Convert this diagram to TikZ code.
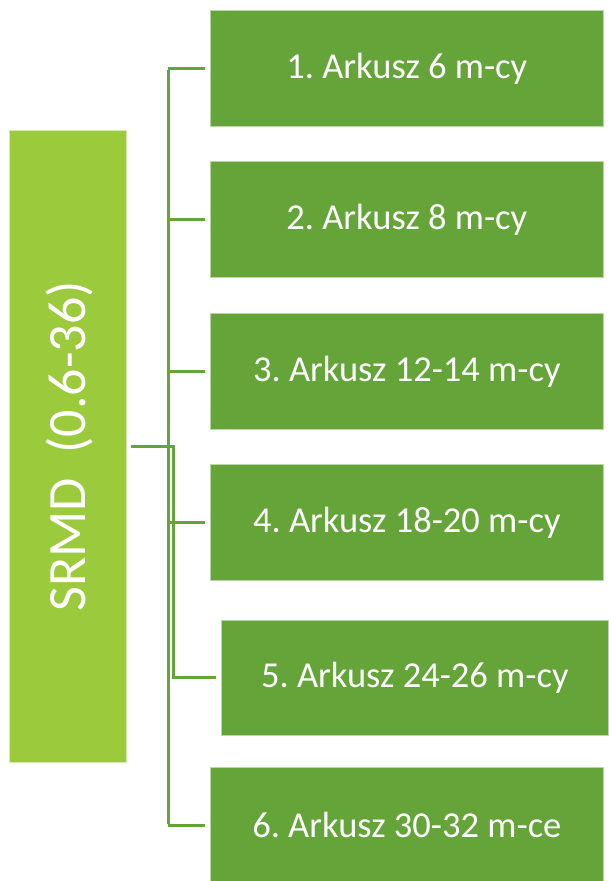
\documentclass[tikz,border=0pt]{standalone}
\usepackage{fontspec}
\setmainfont{Carlito}
\frenchspacing
\definecolor{lime}{RGB}{155,202,60}
\definecolor{leaf}{RGB}{101,164,57}
\tikzset{
  px/.style={x=1pt,y=-1pt},
  rootbox/.style={fill=lime,draw=lime!40!white,line width=0.6pt,minimum width=117pt,minimum height=632pt,inner sep=0pt,anchor=north west},
  leafbox/.style={fill=leaf,draw=leaf!45!white,line width=0.6pt,minimum width=393pt,minimum height=116pt,inner sep=0pt,anchor=north west,text=white,font=\fontsize{36.5}{42}\selectfont},
  conn/.style={draw=leaf,line width=3pt}
}
\begin{document}
\begin{tikzpicture}[px]
\useasboundingbox (0,0) rectangle (608,881);
\node[rootbox] (L) at (9,130) {};
\node[text=white,rotate=90,font=\fontsize{54}{60}\selectfont] (Lt) at ([xshift=2pt]L.center) {SRMD~~(0.6-36)};
\node[leafbox] (b1) at (210,10) {1. Arkusz 6 m-cy};
\node[leafbox] (b2) at (210,161) {2. Arkusz 8 m-cy};
\node[leafbox] (b3) at (210,313) {3. Arkusz 12-14 m-cy};
\node[leafbox] (b4) at (210,464) {4. Arkusz 18-20 m-cy};
\node[leafbox,minimum width=387pt,minimum height=115pt] (b5) at (221,620) {5. Arkusz 24-26 m-cy};
\node[leafbox] (b6) at (210,767) {6. Arkusz 30-32 m-ce};
% trunk
\coordinate (t1) at (168,0 |- b1.west);
\coordinate (t6) at (168,0 |- b6.west);
\draw[conn,line cap=butt] ([yshift=-1.5pt]t1) -- ([yshift=1.5pt]t6);
\foreach \i in {1,2,3,4,6}{
  \draw[conn] (168,0 |- b\i.west) -- ([xshift=-5pt]b\i.west);
}
% root link
\draw[conn] ([xshift=4pt]L.east) -- (174.5,0 |- L.east);
\draw[conn] (173,0 |- L.east) -- (173,0 |- b5.west) -- ([xshift=-5pt]b5.west);
\end{tikzpicture}
\end{document}
